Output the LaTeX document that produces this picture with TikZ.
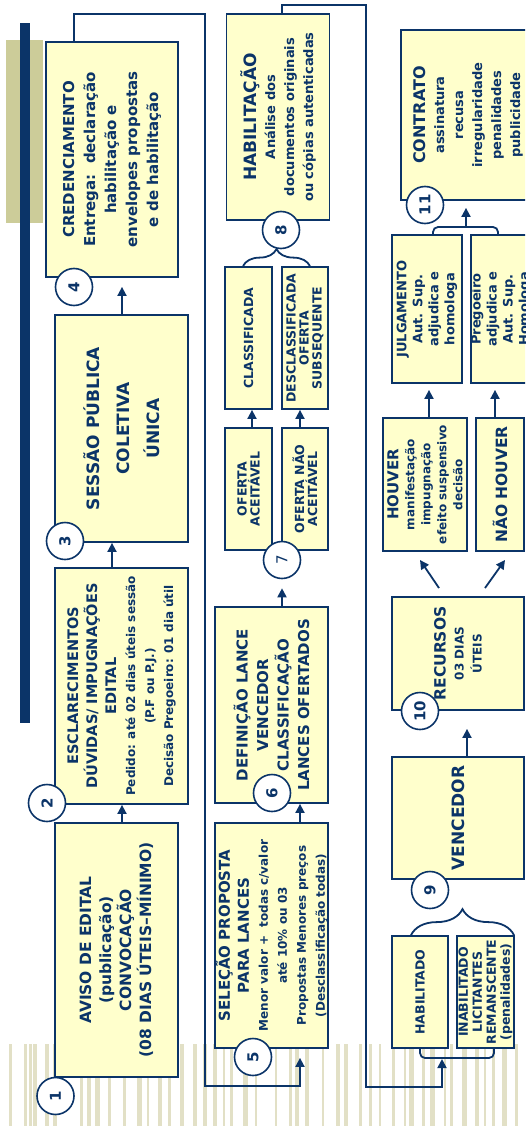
\documentclass[tikz,border=0pt]{standalone}
\usepackage{fontspec}
\setmainfont{DejaVu Sans}
\usetikzlibrary{decorations.pathreplacing,arrows.meta}
\definecolor{navy}{HTML}{0B3468}
\definecolor{paper}{HTML}{FFFFCC}
\definecolor{olive}{HTML}{CCCC99}
\definecolor{stripe}{HTML}{E2E0C6}
\newcommand\fs[2]{\fontsize{#1}{#2}\selectfont}
\newcommand\sm{\fs{12}{16.5}}

\begin{document}
\begin{tikzpicture}[x=1pt,y=-1pt,
  card/.style={draw=navy, fill=paper, line width=1.8pt, rotate=90, align=center,
    text=navy, inner sep=0pt},
  num/.style={circle, draw=navy, fill=white, line width=1.6pt, minimum size=37pt,
    inner sep=0pt, text=navy, font=\fs{15}{17}\bfseries, rotate=90},
  link/.style={draw=navy, line width=1.8pt},
  arr/.style={link, -{Triangle[length=9pt,width=9pt]}},
  brc/.style={link, decorate},
]
\useasboundingbox (0,0) rectangle (525,1126);
\clip (0,0) rectangle (525,1126);

% decorative background: side bar, block and barcode stripes
\fill[olive] (6,40) rectangle (43,223);
\fill[navy] (20,23) rectangle (30,723);
\foreach \a/\b in {9/12,24/27,29/32,33/37,45/49,53/57,80/83,87/91,95/100,108/111,
  123/126,137/142,147/149,158/162,168/171,180/184,193/197,203/207,213/217,223/225,
  230/233,243/248,255/257,275/277,289/292,295/299,305/309,322/324,336/340,344/348,
  359/362,369/372,379/381,392/395,404/406,409/414,422/425,430/435,444/446,450/453,
  462/467,475/479,484/486,492/495,502/507,515/518}
  \fill[stripe] (\a,1044) rectangle (\b,1126);

% column 1
\node[card, minimum width=254pt, minimum height=123pt, font=\fs{15.5}{20}\bfseries]
  (b1) at (116.5,950) {AVISO DE EDITAL\\(publicação)\\CONVOCAÇÃO\\(08 DIAS ÚTEIS–MÍNIMO)};
\node[card, minimum width=236pt, minimum height=133pt, font=\fs{14.5}{19}\bfseries]
  (b2) at (121.5,686) {ESCLARECIMENTOS\\DÚVIDAS/ IMPUGNAÇÕES\\EDITAL\\
  \sm Pedido: até 02 dias úteis sessão\\\sm (P.F ou P.J.)\\\sm Decisão Pregoeiro: 01 dia útil};
\node[card, minimum width=227pt, minimum height=133pt, font=\fs{17}{30}\bfseries]
  (b3) at (121.5,428.5) {SESSÃO PÚBLICA\\COLETIVA\\ÚNICA};
\node[card, minimum width=235pt, minimum height=132pt, font=\fs{15}{21}\bfseries]
  (b4) at (112,159.5) {CREDENCIAMENTO\\Entrega:\ \ declaração\\habilitação e\\envelopes propostas\\e de habilitação};

% column 2
\node[card, minimum width=225pt, minimum height=113pt, font=\fs{15}{19}\bfseries]
  (b5) at (271.5,935.5) {SELEÇÃO PROPOSTA\\PARA LANCES\\
  \sm Menor valor +\ \ todas c/valor\\\sm até 10\% ou 03\\\sm Propostas Menores preços\\\sm (Desclassificação todas)};
\node[card, minimum width=196pt, minimum height=113pt, font=\fs{15}{20.5}\bfseries]
  (b6) at (271.5,705) {DEFINIÇÃO LANCE\\VENCEDOR\\CLASSIFICAÇÃO\\LANCES OFERTADOS};
\node[card, minimum width=122pt, minimum height=47pt, font=\fs{12.5}{13}\bfseries]
  (oa) at (248.5,489) {OFERTA\\ACEITÁVEL};
\node[card, minimum width=122pt, minimum height=46pt, font=\fs{12.5}{13}\bfseries]
  (ona) at (305,489) {OFERTA NÃO\\ACEITÁVEL};
\node[card, minimum width=142pt, minimum height=47pt, font=\fs{12.5}{13}\bfseries]
  (cl) at (248.5,338) {CLASSIFICADA};
\node[card, minimum width=142pt, minimum height=46pt, font=\fs{12.5}{13}\bfseries]
  (dc) at (305,338) {DESCLASSIFICADA\\OFERTA\\SUBSEQUENTE};
\node[card, minimum width=206pt, minimum height=103pt, font=\fs{17}{19}\bfseries]
  (b8) at (278,117) {HABILITAÇÃO\\\fs{13}{16}Análise dos\\\fs{13}{16}documentos originais\\\fs{13}{16}ou cópias autenticadas};

% column 3
\node[card, minimum width=112pt, minimum height=56pt, font=\fs{12.5}{14}\bfseries]
  (hab) at (420,992) {HABILITADO};
\node[card, minimum width=112pt, minimum height=57pt, font=\fs{12.5}{14}\bfseries]
  (inab) at (485.5,992) {INABILITADO\\LICITANTES\\REMANSCENTE\\(penalidades)};
\node[card, minimum width=122pt, minimum height=132pt, font=\fs{17}{20}\bfseries]
  (venc) at (458,818) {VENCEDOR};
\node[card, minimum width=113pt, minimum height=132pt, font=\fs{15.5}{18}\bfseries]
  (rec) at (458,653.5) {RECURSOS\\\fs{12}{17}03 DIAS\\\fs{12}{17}ÚTEIS};
\node[card, minimum width=133pt, minimum height=84pt, font=\fs{15}{16}\bfseries]
  (houv) at (425,484.5) {HOUVER\\\fs{12}{13}manifestação\\\fs{12}{13}impugnação\\\fs{12}{13}efeito suspensivo\\\fs{12}{13}decisão};
\node[card, minimum width=133pt, minimum height=48pt, font=\fs{15.5}{18}\bfseries]
  (nhouv) at (500,484.5) {NÃO HOUVER};
\node[card, minimum width=148pt, minimum height=70pt, font=\fs{13}{16}\bfseries]
  (julg) at (427,309) {JULGAMENTO\\Aut. Sup.\\adjudica e\\homologa};
\node[card, minimum width=148pt, minimum height=60pt, font=\fs{13}{16}\bfseries]
  (preg) at (501,309) {Pregoeiro\\adjudica e\\Aut. Sup.\\Homologa};
\node[card, minimum width=170pt, minimum height=134pt, font=\fs{16}{19}\bfseries]
  (contr) at (468,115) {CONTRATO\\\fs{13}{16.5}assinatura\\\fs{13}{16.5}recusa\\\fs{13}{16.5}irregularidade\\\fs{13}{16.5}penalidades\\\fs{13}{16.5}publicidade};

% feedback loops
\draw[arr, shorten >=9pt] (b4.east -| 74,0) -- (74,14) -- (205,14) -- (205,1086)
  -- (300,1086) -- (b5.west -| 300,0);
\draw[arr] (b8.east -| 282,0) -- (282,5) -- (366,5) -- (366,1087) -- (442,1087) -- (442,1059);

% step connectors
\draw[arr] (b1.east -| 122,0) -- (b2.west -| 122,0);
\draw[arr] (b2.east -| 112,0) -- (b3.west -| 112,0);
\draw[arr, shorten >=9pt] (b3.east -| 122,0) -- (b4.west -| 122,0);
\draw[arr] (b5.east -| 300,0) -- (b6.west -| 300,0);
\draw[arr] (oa.east -| 252,0) -- (cl.west -| 252,0);
\draw[arr] (ona.east -| 300,0) -- (dc.west -| 300,0);
\draw[arr, shorten >=18pt] (venc.east -| 467,0) -- (rec.west -| 467,0);
\coordinate (rl0) at (439,588); \coordinate (rl1) at (420,560);
\coordinate (rr0) at (485,588); \coordinate (rr1) at (505,560);
\draw[arr] (rl0) -- (rl1);
\draw[arr] (rr0) -- (rr1);
\draw[arr, shorten >=6pt] (houv.east -| 429,0) -- (julg.west -| 429,0);
\draw[arr, shorten >=6pt] (nhouv.east -| 495,0) -- (preg.west -| 495,0);

% braces and brackets
\draw[brc, decoration={brace, amplitude=17pt}] (cl.east -| 243,0) -- (dc.east -| 310,0);
\draw[brc, decoration={brace, amplitude=26pt}] (hab.east -| 411,0) -- (inab.east -| 514,0);
\draw[link, rounded corners=5pt] (hab.west -| 420,0) -- (420,1058) -- (494,1058) -- (inab.west -| 494,0);
\draw[link, rounded corners=5pt] (julg.east -| 433,0) -- (433,227) -- (498,227) -- (preg.east -| 498,0);
\draw[arr, shorten >=7pt] (466,227) -- (contr.west -| 466,0);

% step numbers
\node[num] (c1) at (55.5,1096) {1};
\node[num] (c2) at (47,803) {2};
\node[num] (c3) at (65,541) {3};
\node[num] (c4) at (74,287) {4};
\node[num] (c5) at (253,1057) {5};
\node[num] (c6) at (272,793) {6};
\node[num, font=\fs{15}{17}] (c7) at (282,560) {7};
\node[num] (c8) at (281,230) {8};
\node[num] (c9) at (430,890) {9};
\node[num] (c10) at (420,711) {10};
\node[num] (c11) at (425,205) {11};
\draw[arr, shorten >=9pt] (b6.east -| 282,0) -- (c7);
\end{tikzpicture}
\end{document}
